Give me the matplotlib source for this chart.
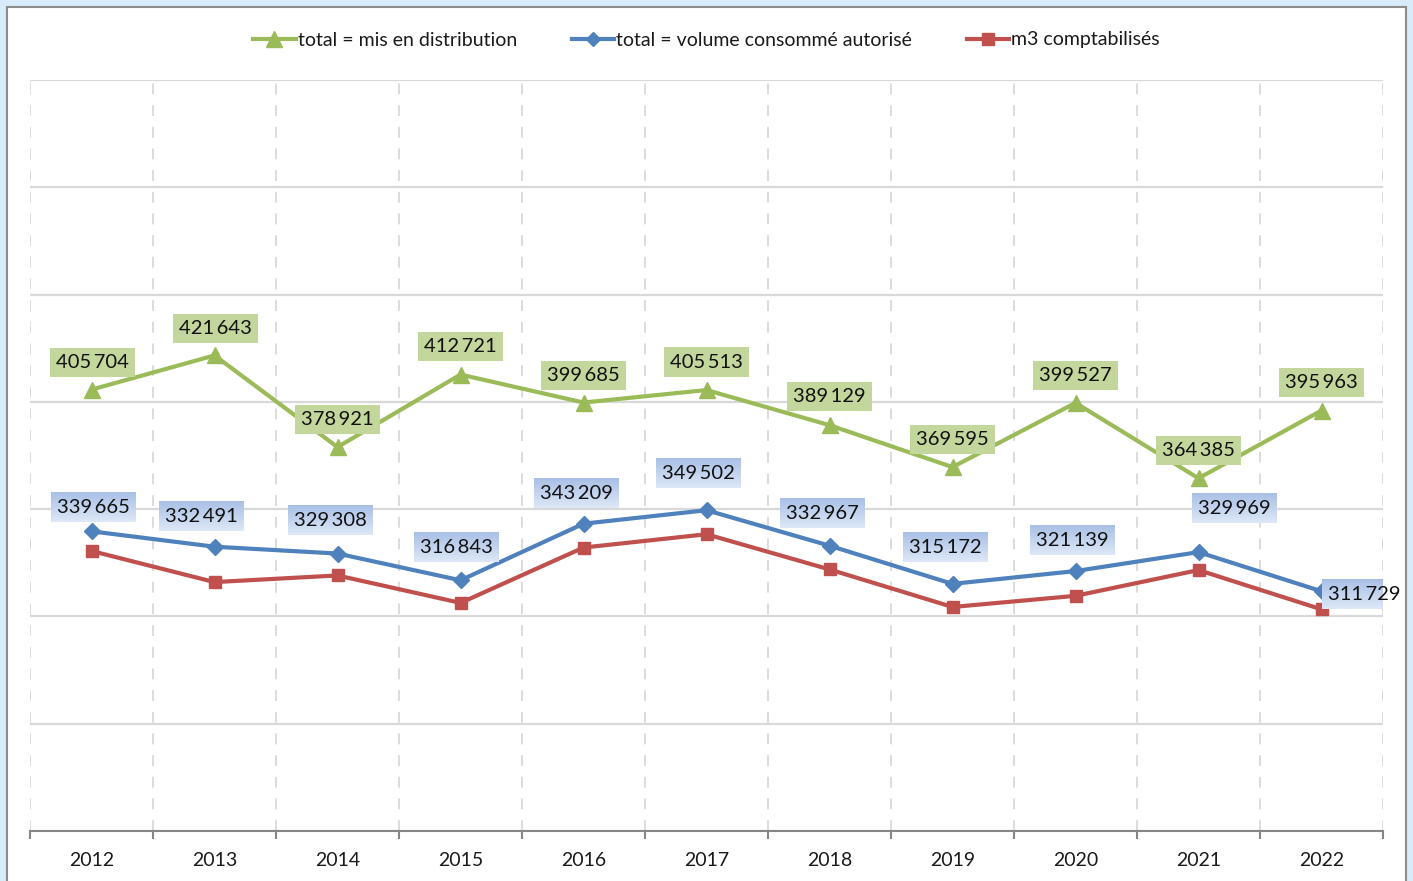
import matplotlib
matplotlib.use("Agg")
import matplotlib.pyplot as plt
import numpy as np
from matplotlib.patches import Rectangle
from matplotlib.lines import Line2D

plt.rcParams['font.family'] = ['Lato', 'DejaVu Sans']

years = ['2012', '2013', '2014', '2015', '2016', '2017', '2018', '2019', '2020', '2021', '2022']
distribution = [405704, 421643, 378921, 412721, 399685, 405513, 389129, 369595, 399527, 364385, 395963]
autorise = [339665, 332491, 329308, 316843, 343209, 349502, 332967, 315172, 321139, 329969, 311729]
comptabilises = [330500, 316000, 319100, 306300, 332100, 338300, 321900, 304400, 309600, 321600, 303300]

names = ['total = mis en distribution', 'total = volume consommé autorisé', 'm3 comptabilisés']

# label offsets in pixels (style)
green_off = [(1, 27), (1, 27), (0, 28), (0, 28), (0, 27), (0, 28), (0, 29), (0, 28), (0, 27), (0, 28), (0, 28)]
blue_off = [(2, 24), (-13, 30), (-7, 33), (-4, 33), (-7, 30), (-8, 37), (-7, 32), (-7, 36), (-3, 31), (36, 44), (43, -3)]

GREEN = '#9bbb59'
BLUE = '#4f81bd'
RED = '#c0504d'

W, H = 1413, 881
fig = plt.figure(figsize=(W / 100, H / 100), dpi=100)
fig.patch.set_facecolor('#d7ebf9')
fig.patches.append(Rectangle((7 / W, -0.05), (1406 - 7) / W, (H - 7) / H + 0.05,
                             transform=fig.transFigure, facecolor='white',
                             edgecolor='#8c8c8c', linewidth=1.5, zorder=-5))

ax = fig.add_axes([30 / W, 1 - 831 / H, (1383 - 30) / W, (831 - 80) / H])
ax.patch.set_alpha(0)

x = np.arange(len(years))
ax.set_xlim(-0.5, len(years) - 0.5)
ax.set_ylim(200000, 550000)

# grid
for yv in np.arange(250000, 550001, 50000):
    ax.axhline(yv, color='#d9d9d9', lw=1.6, zorder=1)
for xv in np.arange(-0.5, len(years), 1.0):
    ax.axvline(xv, color='#d9d9d9', lw=1.3, ls=(0, (6, 6)), zorder=1)

for s in ['top', 'right', 'left']:
    ax.spines[s].set_visible(False)
ax.spines['bottom'].set_color('#868686')
ax.spines['bottom'].set_linewidth(1.5)
ax.set_yticks([])
ax.set_xticks(np.arange(-0.5, len(years), 1.0))
ax.set_xticklabels([])
ax.set_xticks(x, minor=True)
ax.set_xticklabels(years, minor=True, fontsize=14, color='#1a1a1a')
ax.tick_params(axis='x', which='major', length=6, width=1.5, color='#868686', direction='out')
ax.tick_params(axis='x', which='minor', length=0, pad=15)

ax.plot(x, comptabilises, color=RED, lw=3, marker='s', ms=8.5, zorder=3, label=names[2])
ax.plot(x, autorise, color=BLUE, lw=3, marker='D', ms=8.5, zorder=3, label=names[1])
ax.plot(x, distribution, color=GREEN, lw=3, marker='^', ms=11, zorder=3, label=names[0])


def fmt(v):
    return f"{v:,}".replace(',', '\u2009')


green_ann = []
for i, v in enumerate(distribution):
    a = ax.annotate(fmt(v), (x[i], v), xytext=green_off[i], textcoords='offset pixels',
                    ha='center', va='center', fontsize=14.5, color='#111111', zorder=6,
                    bbox=dict(boxstyle='square,pad=0.3', fc='#c3d69b', ec='none'))
    green_ann.append(a)

blue_ann = []
for i, v in enumerate(autorise):
    a = ax.annotate(fmt(v), (x[i], v), xytext=blue_off[i], textcoords='offset pixels',
                    ha='center', va='center', fontsize=14.5, color='#111111', zorder=6,
                    bbox=dict(boxstyle='square,pad=0.3', fc='#c5d4ee', ec='none'))
    blue_ann.append(a)

# gradient boxes for blue labels
fig.canvas.draw()
renderer = fig.canvas.get_renderer()
top = np.array([0.66, 0.75, 0.90])
bot = np.array([0.87, 0.91, 0.97])
grad = np.linspace(0, 1, 64)[:, None, None]
img = top[None, None, :] * (1 - grad) + bot[None, None, :] * grad
img = np.repeat(img, 4, axis=1)
inv = ax.transData.inverted()
for a in blue_ann:
    patch = a.get_bbox_patch()
    bb = patch.get_window_extent(renderer)
    (x0, y0), (x1, y1) = inv.transform([[bb.x0, bb.y0], [bb.x1, bb.y1]])
    ax.imshow(img, extent=(x0, x1, y0, y1), aspect='auto', zorder=5.5,
              interpolation='bilinear', origin='upper')
    patch.set_visible(False)
ax.set_xlim(-0.5, len(years) - 0.5)
ax.set_ylim(200000, 550000)

handles = [
    Line2D([], [], color=GREEN, lw=3, marker='^', ms=11),
    Line2D([], [], color=BLUE, lw=3, marker='D', ms=7.5),
    Line2D([], [], color=RED, lw=3, marker='s', ms=8),
]
fig.legend(handles, names, loc='center', bbox_to_anchor=(0.5, 1 - 40 / H), ncol=3,
           frameon=False, fontsize=14, handlelength=2.2, handletextpad=0.1,
           columnspacing=2.8, labelcolor='#1a1a1a')

fig.savefig('out.png', dpi=100, facecolor=fig.get_facecolor())
